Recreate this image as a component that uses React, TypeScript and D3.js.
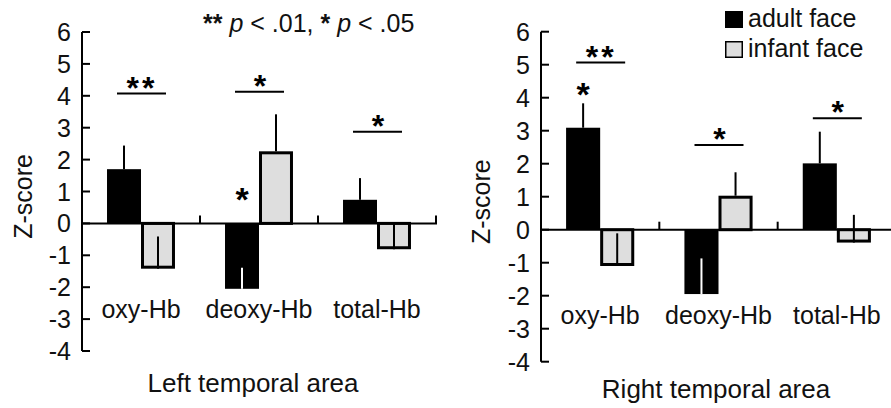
import React from 'react';
import * as d3 from 'd3';

// categories and groups
const categories = ['oxy-Hb', 'deoxy-Hb', 'total-Hb'];
const groups = ['adult face', 'infant face'];
const yTicks = [-4, -3, -2, -1, 0, 1, 2, 3, 4, 5, 6];

// left temporal area: mean z-score and error (drawn upward from the bar end)
const leftAdult = [1.7, -2.05, 0.74];
const leftAdultErr = [0.74, 0.66, 0.68];
const leftInfant = [-1.42, 2.26, -0.81];
const leftInfantErr = [1.01, 1.16, 0.8];
const leftBracketLevel = [4.07, 4.13, 2.87];
const leftBracketLabel = ['**', '*', '*'];
const leftStars = [{ cat: 'deoxy-Hb', group: 'adult face', level: 0.99 }];

// right temporal area
const rightAdult = [3.09, -1.95, 2.01];
const rightAdultErr = [0.74, 1.08, 0.96];
const rightInfant = [-1.1, 1.03, -0.39];
const rightInfantErr = [0.99, 0.71, 0.84];
const rightBracketLevel = [5.07, 2.57, 3.38];
const rightBracketLabel = ['**', '*', '*'];
const rightStars = [{ cat: 'oxy-Hb', group: 'adult face', level: 4.33 }];

const FONT = '"Liberation Sans", Arial, sans-serif';
const INFANT_FILL = '#dedede';

type Star = { cat: string; group: string; level: number };

type PanelProps = {
  axisX: number;
  axisEnd: number;
  zeroEnd: number;
  yTop: number;
  yBottom: number;
  adult: number[];
  adultErr: number[];
  infant: number[];
  infantErr: number[];
  bracketLevel: number[];
  bracketLabel: string[];
  stars: Star[];
  yLabelX: number;
  catLabelY: number;
  title: string;
  titleX: number;
  titleY: number;
};

// asterisk glyph sits high; shift baseline so the glyph centre lands on cy
const starText = (x: number, cy: number, label: string, fs: number, key: string) => (
  <text
    key={key}
    x={x}
    y={cy + fs * 0.57}
    textAnchor="middle"
    fontSize={fs}
    fontWeight="bold"
    letterSpacing={label.length > 1 ? 3 : 0}
    fontFamily={FONT}
  >
    {label}
  </text>
);

const Panel = (p: PanelProps) => {
  const x0 = d3.scaleBand().domain(categories).range([p.axisX, p.axisEnd]);
  const bw = x0.bandwidth();
  const x1 = d3.scaleBand().domain(groups).range([bw * 0.212, bw * 0.788]);
  const y = d3.scaleLinear().domain([-4, 6]).range([p.yBottom, p.yTop]);
  const y0 = y(0);

  const rows = categories.flatMap((c, i) => [
    { cat: c, group: groups[0], v: p.adult[i], e: p.adultErr[i] },
    { cat: c, group: groups[1], v: p.infant[i], e: p.infantErr[i] },
  ]);

  return (
    <g>
      {/* bars */}
      {rows.map((r, i) => {
        const bx = x0(r.cat)! + x1(r.group)!;
        const isAdult = r.group === groups[0];
        const top = y(Math.max(0, r.v));
        const h = Math.abs(y(r.v) - y0);
        return (
          <rect
            key={'b' + i}
            x={isAdult ? bx : bx + 1.5}
            y={isAdult ? top : top + (r.v > 0 ? 1.5 : 0)}
            width={isAdult ? x1.bandwidth() : x1.bandwidth() - 3}
            height={isAdult ? h : h - 1.5}
            fill={isAdult ? '#000' : INFANT_FILL}
            stroke={isAdult ? 'none' : '#000'}
            strokeWidth={3}
          />
        );
      })}
      {/* error lines: from value up by the error */}
      {rows.map((r, i) => {
        const cx = x0(r.cat)! + x1(r.group)! + x1.bandwidth() / 2;
        const isAdult = r.group === groups[0];
        const end = r.v + r.e;
        const insideBlack = isAdult && r.v < 0 && end < 0;
        return (
          <line
            key={'e' + i}
            x1={cx}
            x2={cx}
            y1={y(r.v)}
            y2={y(end)}
            stroke={insideBlack ? '#fff' : '#000'}
            strokeWidth={2}
          />
        );
      })}
      {/* zero line with category separators */}
      <line x1={p.axisX} x2={p.zeroEnd} y1={y0} y2={y0} stroke="#000" strokeWidth={2} />
      {categories.map((c) => (
        <line
          key={'s' + c}
          x1={x0(c)! + bw}
          x2={x0(c)! + bw}
          y1={y0}
          y2={y0 - 8}
          stroke="#000"
          strokeWidth={2}
        />
      ))}
      {/* y axis */}
      <line x1={p.axisX} x2={p.axisX} y1={y(6)} y2={y(-4)} stroke="#000" strokeWidth={2} />
      {yTicks.map((t) => (
        <g key={'t' + t}>
          <line x1={p.axisX} x2={p.axisX + 8} y1={y(t)} y2={y(t)} stroke="#000" strokeWidth={2} />
          <text
            x={p.axisX - 11}
            y={y(t)}
            dy="0.36em"
            textAnchor="end"
            fontSize={25}
            fontFamily={FONT}
            fill="#111"
          >
            {t}
          </text>
        </g>
      ))}
      <text
        transform={`translate(${p.yLabelX},${(y(6) + y(-4)) / 2 + 5}) rotate(-90)`}
        dy="0.35em"
        textAnchor="middle"
        fontSize={25}
        fontFamily={FONT}
        fill="#111"
      >
        Z-score
      </text>
      {/* category labels */}
      {categories.map((c) => (
        <text
          key={'c' + c}
          x={x0(c)! + bw / 2}
          y={p.catLabelY}
          textAnchor="middle"
          fontSize={25}
          fontFamily={FONT}
          fill="#111"
        >
          {c}
        </text>
      ))}
      {/* significance brackets */}
      {categories.map((c, i) => {
        const cx = x0(c)! + bw / 2;
        const by = y(p.bracketLevel[i]);
        return (
          <g key={'k' + c}>
            <line x1={cx - 24} x2={cx + 25} y1={by} y2={by} stroke="#000" strokeWidth={2} />
            {starText(cx + 1, by - 13, p.bracketLabel[i], 32, 'kl' + c)}
          </g>
        );
      })}
      {p.stars.map((s, i) =>
        starText(x0(s.cat)! + x1(s.group)! + x1.bandwidth() / 2, y(s.level), '*', 34, 'st' + i)
      )}
      <text
        x={p.titleX}
        y={p.titleY}
        textAnchor="middle"
        fontSize={26}
        fontFamily={FONT}
        fill="#111"
      >
        {p.title}
      </text>
    </g>
  );
};

export default function App() {
  return (
    <svg
      width={891}
      height={408}
      viewBox="0 0 891 408"
      style={{ position: 'absolute', left: 0, top: 0, background: '#fff' }}
    >
      <rect width={891} height={408} fill="#fff" />
      <Panel
        axisX={82}
        axisEnd={436}
        zeroEnd={437}
        yTop={32}
        yBottom={351}
        adult={leftAdult}
        adultErr={leftAdultErr}
        infant={leftInfant}
        infantErr={leftInfantErr}
        bracketLevel={leftBracketLevel}
        bracketLabel={leftBracketLabel}
        stars={leftStars}
        yLabelX={23}
        catLabelY={318}
        title="Left temporal area"
        titleX={253}
        titleY={392}
      />
      <Panel
        axisX={541}
        axisEnd={896}
        zeroEnd={891}
        yTop={31.7}
        yBottom={361.7}
        adult={rightAdult}
        adultErr={rightAdultErr}
        infant={rightInfant}
        infantErr={rightInfantErr}
        bracketLevel={rightBracketLevel}
        bracketLabel={rightBracketLabel}
        stars={rightStars}
        yLabelX={481}
        catLabelY={324}
        title="Right temporal area"
        titleX={716}
        titleY={398}
      />
      {/* significance note */}
      <text x={203} y={32} fontSize={25} fontFamily={FONT} fill="#111">
        <tspan fontWeight="bold">**</tspan> <tspan fontStyle="italic">p</tspan>
        {' < .01, '}
        <tspan fontWeight="bold">*</tspan> <tspan fontStyle="italic">p</tspan>
        {' < .05'}
      </text>
      {/* legend */}
      <rect x={725} y={11} width={18} height={17} fill="#000" />
      <text x={748} y={27} fontSize={25} fontFamily={FONT} fill="#111">
        {groups[0]}
      </text>
      <rect x={725.75} y={41.75} width={16.5} height={15.5} fill={INFANT_FILL} stroke="#000" strokeWidth={1.5} />
      <text x={748} y={57} fontSize={25} fontFamily={FONT} fill="#111">
        {groups[1]}
      </text>
    </svg>
  );
}
